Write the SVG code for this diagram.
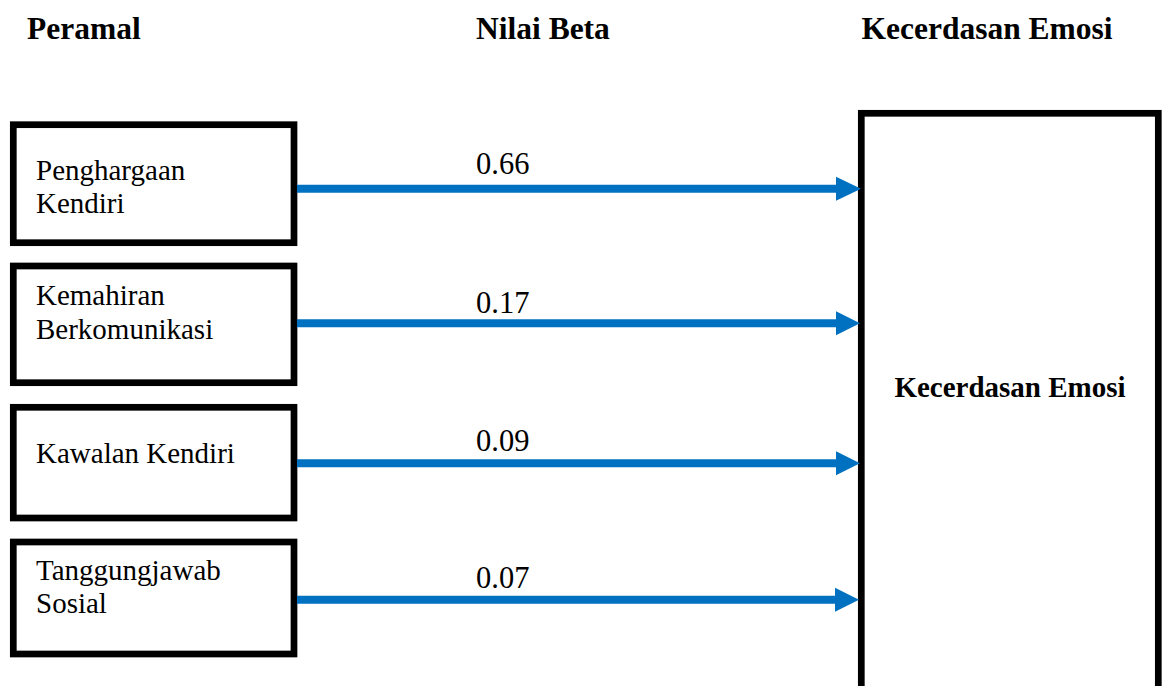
<svg xmlns="http://www.w3.org/2000/svg" width="1162" height="686" viewBox="0 0 1162 686">
  <style>
    .head { font-family: "Liberation Serif", "Times New Roman", serif; font-weight: bold; font-size: 31.5px; fill: #000; }
    .lbl { font-family: "Liberation Serif", "Times New Roman", serif; font-size: 29px; fill: #000; }
    .beta { font-family: "Liberation Serif", "Times New Roman", serif; font-size: 30.5px; fill: #000; }
    .box { fill: #fff; stroke: #000; stroke-width: 6.7; }
    .link { stroke: #0070C0; stroke-width: 8; fill: none; }
    .tip { fill: #0070C0; }
  </style>

  <rect width="1162" height="686" fill="#fff"/>

  <!-- column headings -->
  <g id="headings">
    <text class="head" x="27" y="38.5">Peramal</text>
    <text class="head" x="476" y="38.5">Nilai Beta</text>
    <text class="head" x="861.5" y="38.5">Kecerdasan Emosi</text>
  </g>

  <!-- predictor boxes -->
  <g id="node-penghargaan">
    <rect class="box" x="13.3" y="124.7" width="280.7" height="118"/>
    <text class="lbl" x="36" y="180">Penghargaan</text>
    <text class="lbl" x="36" y="213">Kendiri</text>
  </g>
  <g id="node-kemahiran">
    <rect class="box" x="13.3" y="266" width="280.7" height="116.7"/>
    <text class="lbl" x="36" y="305.3">Kemahiran</text>
    <text class="lbl" x="36" y="339.3">Berkomunikasi</text>
  </g>
  <g id="node-kawalan">
    <rect class="box" x="13.3" y="407.3" width="280.7" height="110.7"/>
    <text class="lbl" x="36" y="462.7">Kawalan Kendiri</text>
  </g>
  <g id="node-tanggungjawab">
    <rect class="box" x="13.3" y="542" width="280.7" height="112"/>
    <text class="lbl" x="36" y="580">Tanggungjawab</text>
    <text class="lbl" x="36" y="613.3">Sosial</text>
  </g>

  <!-- outcome box (runs past the lower edge) -->
  <g id="node-kecerdasan">
    <rect class="box" x="861.3" y="113.3" width="297" height="620"/>
    <text class="head" x="1010" y="396.7" text-anchor="middle" style="font-size:29px">Kecerdasan Emosi</text>
  </g>

  <!-- connectors with beta weights -->
  <g id="connectors">
    <line class="link" x1="297" y1="188.7" x2="838" y2="188.7"/>
    <polygon class="tip" points="836,176.7 861,188.7 836,200.7"/>
    <text class="beta" x="476" y="174">0.66</text>

    <line class="link" x1="297" y1="323.3" x2="838" y2="323.3"/>
    <polygon class="tip" points="836,311.3 860,323.3 836,335.3"/>
    <text class="beta" x="476" y="312.7">0.17</text>

    <line class="link" x1="297" y1="463.3" x2="838" y2="463.3"/>
    <polygon class="tip" points="836,451.3 860,463.3 836,475.3"/>
    <text class="beta" x="476" y="450.7">0.09</text>

    <line class="link" x1="297" y1="599.7" x2="838" y2="599.7"/>
    <polygon class="tip" points="835,587.7 859,599.7 835,611.7"/>
    <text class="beta" x="476" y="588.3">0.07</text>
  </g>
</svg>
